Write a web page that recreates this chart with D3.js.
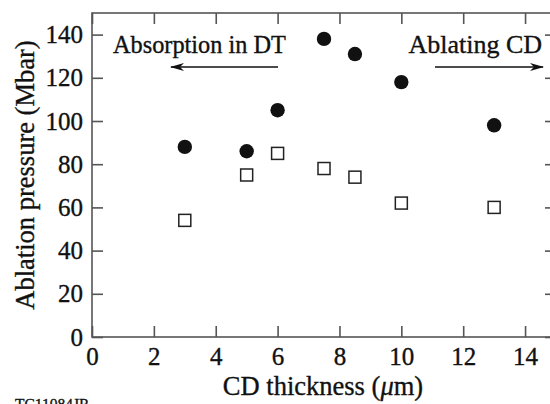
<!DOCTYPE html>
<html>
<head>
<meta charset="utf-8">
<script src="https://cdn.jsdelivr.net/npm/d3@7"></script>
<style>
  body { margin: 0; background: #fff; }
  svg { display: block; }
  svg text { stroke: #111; stroke-width: 0.35px; }
</style>
</head>
<body>
<div id="chart"></div>
<script>
const SVG_WIDTH = 550;
const SVG_HEIGHT = 404;
const MARGIN = { top: 13, right: -6, bottom: 67, left: 92 };
const FONT = "'Liberation Serif', 'Times New Roman', serif";

// CD thickness (um)
const thickness = [3, 5, 6, 7.5, 8.5, 10, 13];
// ablation pressure (Mbar), filled circles
const pressureFilled = [88, 86, 105, 138, 131, 118, 98];
// ablation pressure (Mbar), open squares
const pressureOpen = [54, 75, 85, 78, 74, 62, 60];

const xTicks = [0, 2, 4, 6, 8, 10, 12, 14];
const yTicks = [0, 20, 40, 60, 80, 100, 120, 140];

const svg = d3.select("#chart").append("svg")
    .attr("width", SVG_WIDTH)
    .attr("height", SVG_HEIGHT)
    .attr("font-family", FONT);

const x = d3.scaleLinear()
    .domain([0, 15])
    .range([MARGIN.left, SVG_WIDTH - MARGIN.right]);

const y = d3.scaleLinear()
    .domain([0, 150])
    .range([SVG_HEIGHT - MARGIN.bottom, MARGIN.top]);

const AXIS_COLOR = "#555";
const TICK = 11;

// frame (right side runs just past the picture edge)
svg.append("rect")
    .attr("x", x(0))
    .attr("y", y(150))
    .attr("width", x(15) - x(0))
    .attr("height", y(0) - y(150))
    .attr("fill", "none")
    .attr("stroke", AXIS_COLOR)
    .attr("stroke-width", 1.6);

const styleAxis = g => {
    g.attr("font-family", FONT).attr("font-size", 25);
    g.select(".domain").remove();
    g.selectAll(".tick line").attr("stroke", AXIS_COLOR).attr("stroke-width", 1.6);
    g.selectAll(".tick text").attr("fill", "#111");
};

// inward ticks on all four sides
svg.append("g")
    .attr("transform", `translate(0,${y(0)})`)
    .call(d3.axisBottom(x).tickValues(xTicks).tickSizeInner(-TICK).tickPadding(10))
    .call(styleAxis);

svg.append("g")
    .attr("transform", `translate(0,${y(150)})`)
    .call(d3.axisTop(x).tickValues(xTicks).tickSizeInner(-TICK).tickFormat(""))
    .call(styleAxis);

svg.append("g")
    .attr("transform", `translate(${x(0)},0)`)
    .call(d3.axisLeft(y).tickValues(yTicks).tickSizeInner(-TICK).tickPadding(9))
    .call(styleAxis);

svg.append("g")
    .attr("transform", `translate(${x(15)},0)`)
    .call(d3.axisRight(y).tickValues(yTicks).tickSizeInner(-TICK).tickFormat(""))
    .call(styleAxis);

// axis titles
svg.append("text")
    .attr("x", 323)
    .attr("y", 395)
    .attr("text-anchor", "middle")
    .attr("font-size", 26.5)
    .attr("fill", "#111")
    .html('CD thickness (<tspan font-style="italic">μ</tspan>m)');

svg.append("text")
    .attr("transform", `translate(34,${(y(0) + y(150)) / 2}) rotate(-90)`)
    .attr("text-anchor", "middle")
    .attr("font-size", 26.5)
    .attr("fill", "#111")
    .text("Ablation pressure (Mbar)");

// annotations
svg.append("defs").append("marker")
    .attr("id", "head")
    .attr("viewBox", "0 0 14 10")
    .attr("refX", 13)
    .attr("refY", 5)
    .attr("markerWidth", 14)
    .attr("markerHeight", 10)
    .attr("markerUnits", "userSpaceOnUse")
    .attr("orient", "auto")
    .append("path")
    .attr("d", "M0,1 L14,5 L0,9 L4,5 Z")
    .attr("fill", "#111");

svg.append("text")
    .attr("x", 113)
    .attr("y", 53)
    .attr("font-size", 24.3)
    .attr("fill", "#111")
    .text("Absorption in DT");

svg.append("line")
    .attr("x1", 278).attr("y1", 67)
    .attr("x2", 171).attr("y2", 67)
    .attr("stroke", "#111")
    .attr("stroke-width", 1.3)
    .attr("marker-end", "url(#head)");

svg.append("text")
    .attr("x", 542)
    .attr("y", 53)
    .attr("text-anchor", "end")
    .attr("font-size", 26)
    .attr("fill", "#111")
    .text("Ablating CD");

svg.append("line")
    .attr("x1", 435).attr("y1", 67)
    .attr("x2", 543).attr("y2", 67)
    .attr("stroke", "#111")
    .attr("stroke-width", 1.3)
    .attr("marker-end", "url(#head)");

// figure id, partly below the bottom edge as in the original
svg.append("text")
    .attr("x", 15)
    .attr("y", 409)
    .attr("font-size", 15.5)
    .attr("fill", "#111")
    .text("TC11084JR");

// data
const filled = thickness.map((t, i) => ({ t, p: pressureFilled[i] }));
const open = thickness.map((t, i) => ({ t, p: pressureOpen[i] }));

svg.selectAll(".dot")
    .data(filled)
    .enter()
    .append("circle")
    .attr("class", "dot")
    .attr("cx", d => x(d.t))
    .attr("cy", d => y(d.p))
    .attr("r", 7.2)
    .attr("fill", "#111");

const SQ = 12;
svg.selectAll(".sq")
    .data(open)
    .enter()
    .append("rect")
    .attr("class", "sq")
    .attr("x", d => x(d.t) - SQ / 2)
    .attr("y", d => y(d.p) - SQ / 2)
    .attr("width", SQ)
    .attr("height", SQ)
    .attr("fill", "#fff")
    .attr("stroke", "#222")
    .attr("stroke-width", 1.5);
</script>
</body>
</html>
